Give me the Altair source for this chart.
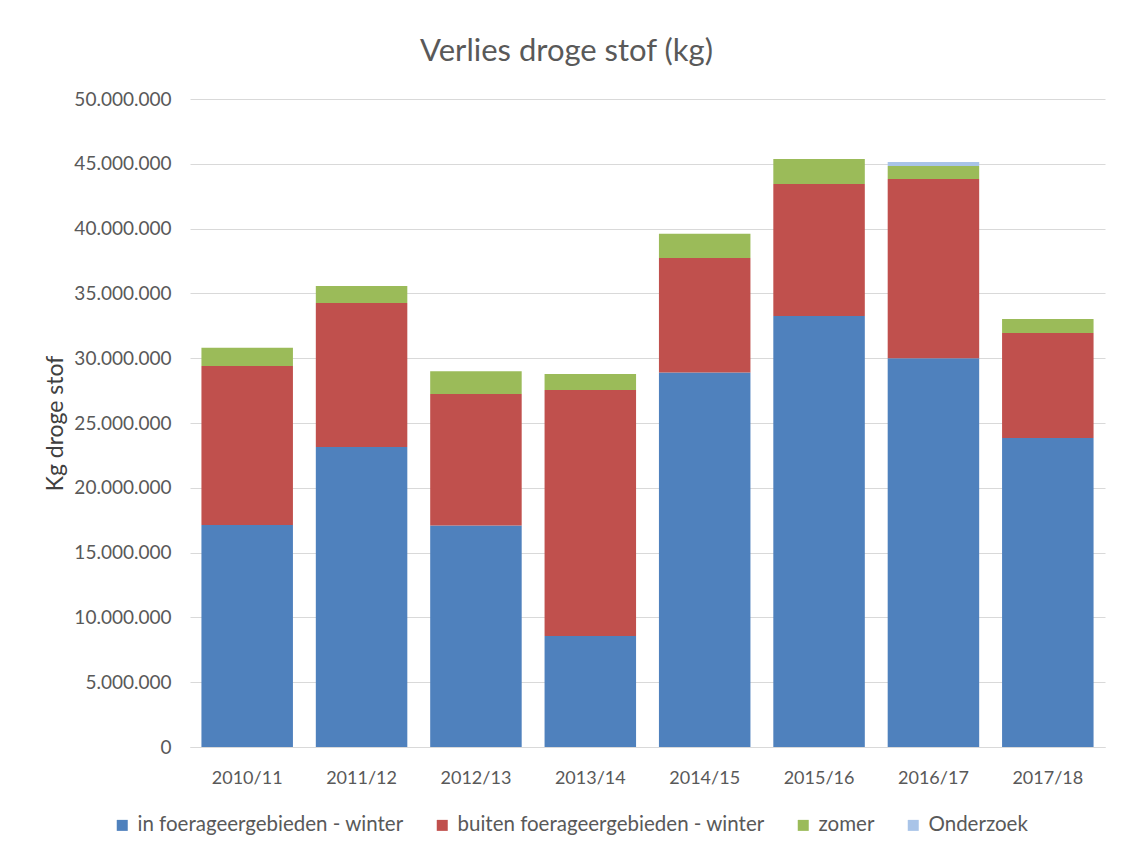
import altair as alt
import pandas as pd

seasons = ["2010/11", "2011/12", "2012/13", "2013/14", "2014/15", "2015/16", "2016/17", "2017/18"]
series = ["in foerageergebieden - winter", "buiten foerageergebieden - winter", "zomer", "Onderzoek"]
in_foerage = [17130000, 23150000, 17100000, 8560000, 28900000, 33260000, 30000000, 23840000]
buiten_foerage = [12270000, 11110000, 10140000, 18990000, 8830000, 10180000, 13830000, 8100000]
zomer = [1400000, 1310000, 1760000, 1230000, 1870000, 1930000, 1000000, 1080000]
onderzoek = [0, 0, 0, 0, 0, 0, 300000, 0]
colors = ["#4F81BD", "#C0504D", "#9BBB59", "#A9C4E8"]

rows = []
for i, s in enumerate(seasons):
    for k, (name, vals) in enumerate(zip(series, [in_foerage, buiten_foerage, zomer, onderzoek])):
        rows.append({"seizoen": s, "reeks": name, "waarde": vals[i], "volgorde": k})
df = pd.DataFrame(rows)

font = "Lato"
grey = "#595959"

chart = alt.Chart(df).mark_bar().encode(
    x=alt.X("seizoen:N", sort=seasons, title=None,
            scale=alt.Scale(paddingInner=0.2, paddingOuter=0.1),
            axis=alt.Axis(labelAngle=0, labelColor=grey, labelFontSize=18, labelFont=font,
                          labelPadding=22, ticks=False, domainColor="#D9D9D9", grid=False)),
    y=alt.Y("sum(waarde):Q", title="Kg droge stof",
            scale=alt.Scale(domain=[0, 50000000]),
            axis=alt.Axis(values=list(range(0, 50000001, 5000000)),
                          labelExpr="replace(format(datum.value, ',.0f'), regexp(',', 'g'), '.')",
                          labelColor=grey, labelFontSize=19, labelFont=font, labelPadding=19,
                          titleColor="#404040", titleFontSize=23, titleFont=font, titleFontWeight="normal",
                          titlePadding=6, ticks=False, domain=False,
                          gridColor="#D9D9D9", gridWidth=1)),
    color=alt.Color("reeks:N", scale=alt.Scale(domain=series, range=colors),
                    legend=alt.Legend(title=None, orient="none", direction="horizontal",
                                      legendX=-78, legendY=716, symbolType="square",
                                      symbolSize=121, symbolStrokeWidth=0, labelLimit=0,
                                      labelFont=font, labelFontSize=20.5, labelColor=grey,
                                      columnPadding=28, labelOffset=5)),
    order=alt.Order("volgorde:Q", sort="ascending"),
).properties(
    width=915, height=648,
    background="white",
    title=alt.TitleParams("Verlies droge stof (kg)", font=font, fontSize=31, color=grey,
                          fontWeight="normal", offset=22, dx=-81),
    autosize=alt.AutoSizeParams(type="none"),
    padding={"left": 182, "top": 91, "right": 15, "bottom": 95},
).configure_view(strokeWidth=0, stroke="transparent")

chart.save("out.html", embed_options={"renderer": "svg", "actions": False})
